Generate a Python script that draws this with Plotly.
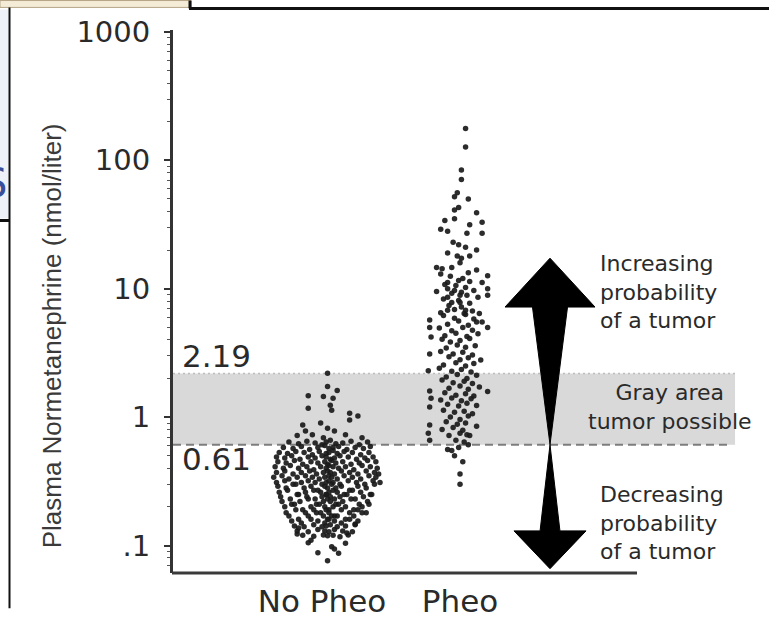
import plotly.graph_objects as go

# ---------------- data ----------------
categories = ["No Pheo", "Pheo"]
y_tick_vals = [0.1, 1, 10, 100, 1000]
y_tick_text = [".1", "1", "10", "100", "1000"]
lower_cutoff = 0.61
upper_cutoff = 2.19

# No Pheo group: plasma normetanephrine (nmol/L) and horizontal jitter (category units)
nopheo_values = [
    2.2, 1.73, 1.61, 1.47, 1.45, 1.40, 1.24, 1.17, 1.13, 1.07, 1.02, 0.95, 0.90, 0.87, 0.82, 0.78, 0.78, 0.73, 0.72, 0.73, 0.69, 0.69,
    0.64, 0.62, 0.65, 0.63, 0.61, 0.64, 0.66, 0.62, 0.63, 0.65, 0.61, 0.64,
    0.58, 0.57, 0.59, 0.56, 0.58, 0.60, 0.57, 0.58, 0.59, 0.56, 0.58, 0.57, 0.59,
    0.53, 0.52, 0.54, 0.53, 0.51, 0.54, 0.52, 0.53, 0.55, 0.52, 0.54, 0.53, 0.51, 0.53,
    0.49, 0.48, 0.50, 0.47, 0.49, 0.48, 0.50, 0.49, 0.47, 0.48, 0.50, 0.49, 0.47, 0.48, 0.49,
    0.45, 0.44, 0.46, 0.43, 0.45, 0.44, 0.45, 0.43, 0.46, 0.44, 0.45, 0.43, 0.44, 0.46, 0.45,
    0.41, 0.40, 0.42, 0.40, 0.41, 0.39, 0.41, 0.40, 0.42, 0.41, 0.40, 0.41, 0.39, 0.42, 0.41, 0.40,
    0.37, 0.38, 0.36, 0.37, 0.38, 0.36, 0.37, 0.38, 0.37, 0.36, 0.38, 0.37, 0.36, 0.38, 0.37, 0.36,
    0.34, 0.35, 0.33, 0.34, 0.35, 0.34, 0.33, 0.34, 0.35, 0.34, 0.33, 0.35, 0.34, 0.33, 0.35, 0.34,
    0.31, 0.32, 0.30, 0.31, 0.32, 0.31, 0.30, 0.31, 0.32, 0.31, 0.30, 0.32, 0.31, 0.30, 0.32, 0.31,
    0.29, 0.28, 0.30, 0.28, 0.29, 0.27, 0.29, 0.28, 0.30, 0.28, 0.29, 0.27, 0.29, 0.28, 0.30,
    0.26, 0.27, 0.25, 0.26, 0.27, 0.26, 0.25, 0.26, 0.27, 0.26, 0.25, 0.27, 0.26, 0.25,
    0.24, 0.23, 0.25, 0.24, 0.23, 0.24, 0.25, 0.24, 0.23, 0.24, 0.25, 0.23, 0.24, 0.25,
    0.22, 0.21, 0.22, 0.23, 0.21, 0.22, 0.23, 0.22, 0.21, 0.22, 0.23, 0.21, 0.22,
    0.20, 0.21, 0.19, 0.20, 0.21, 0.20, 0.19, 0.20, 0.21, 0.20, 0.19, 0.20, 0.21,
    0.18, 0.19, 0.18, 0.19, 0.18, 0.19, 0.18, 0.17, 0.19, 0.18, 0.19, 0.18,
    0.17, 0.16, 0.17, 0.18, 0.17, 0.16, 0.17, 0.17, 0.16, 0.17, 0.18,
    0.155, 0.15, 0.16, 0.155, 0.15, 0.16, 0.155, 0.15, 0.16, 0.155,
    0.142, 0.14, 0.145, 0.14, 0.142, 0.145, 0.14, 0.142, 0.145,
    0.13, 0.128, 0.133, 0.13, 0.128, 0.133, 0.13, 0.128,
    0.12, 0.118, 0.121, 0.119, 0.12, 0.117, 0.121,
    0.105, 0.088, 0.094, 0.104, 0.087, 0.076, 0.123, 0.137, 0.125, 0.147, 0.11, 0.098,
]
nopheo_jitter = [
    0.04, 0.04, 0.11, -0.10, 0.01, 0.08, 0.06, -0.10, 0.07, 0.20, 0.26, 0.20, -0.01, -0.14, 0.04, -0.12, 0.09, -0.07, -0.18, 0.17, 0.29, 0.01,
    -0.24, -0.17, -0.11, -0.05, 0.0, 0.03, 0.06, 0.10, 0.15, 0.21, 0.27, 0.33,
    -0.28, -0.21, -0.15, -0.09, -0.03, 0.02, 0.05, 0.08, 0.12, 0.18, 0.24, 0.30, 0.35,
    -0.31, -0.25, -0.19, -0.13, -0.07, -0.02, 0.03, 0.05, 0.08, 0.11, 0.16, 0.22, 0.28, 0.34,
    -0.33, -0.27, -0.22, -0.16, -0.10, -0.05, 0.0, 0.03, 0.06, 0.09, 0.13, 0.19, 0.25, 0.31, 0.37,
    -0.32, -0.26, -0.20, -0.14, -0.08, -0.03, 0.02, 0.04, 0.07, 0.10, 0.15, 0.21, 0.27, 0.33, 0.39,
    -0.34, -0.28, -0.23, -0.17, -0.11, -0.06, -0.01, 0.03, 0.05, 0.08, 0.12, 0.17, 0.23, 0.29, 0.35, 0.40,
    -0.33, -0.27, -0.21, -0.15, -0.09, -0.04, 0.01, 0.04, 0.06, 0.09, 0.14, 0.20, 0.26, 0.32, 0.38, 0.41,
    -0.35, -0.29, -0.24, -0.18, -0.12, -0.07, -0.02, 0.02, 0.05, 0.07, 0.11, 0.16, 0.22, 0.28, 0.34, 0.39,
    -0.33, -0.27, -0.21, -0.15, -0.10, -0.05, 0.0, 0.03, 0.05, 0.08, 0.13, 0.19, 0.25, 0.31, 0.37, 0.42,
    -0.32, -0.26, -0.19, -0.13, -0.08, -0.03, 0.02, 0.04, 0.07, 0.10, 0.14, 0.20, 0.26, 0.32, 0.38,
    -0.31, -0.25, -0.18, -0.12, -0.06, -0.01, 0.03, 0.05, 0.08, 0.11, 0.16, 0.22, 0.28, 0.35,
    -0.30, -0.23, -0.17, -0.11, -0.05, 0.0, 0.03, 0.06, 0.09, 0.13, 0.18, 0.24, 0.30, 0.36,
    -0.29, -0.22, -0.16, -0.10, -0.04, 0.01, 0.04, 0.06, 0.10, 0.15, 0.21, 0.27, 0.33,
    -0.27, -0.20, -0.14, -0.08, -0.02, 0.02, 0.05, 0.08, 0.12, 0.17, 0.23, 0.29, 0.34,
    -0.26, -0.19, -0.12, -0.06, -0.01, 0.03, 0.05, 0.09, 0.14, 0.20, 0.26, 0.32,
    -0.24, -0.17, -0.10, -0.04, 0.01, 0.04, 0.07, 0.11, 0.17, 0.23, 0.29,
    -0.22, -0.15, -0.08, -0.03, 0.02, 0.05, 0.09, 0.14, 0.20, 0.26,
    -0.20, -0.13, -0.06, 0.0, 0.03, 0.06, 0.11, 0.17, 0.24,
    -0.18, -0.10, -0.03, 0.02, 0.05, 0.09, 0.15, 0.22,
    -0.14, -0.06, 0.01, 0.04, 0.08, 0.13, 0.19,
    -0.10, -0.03, 0.09, 0.17, 0.12, 0.04, -0.18, -0.17, 0.18, 0.24, -0.08, 0.07,
]

# Pheo group
pheo_values = [
    177, 127, 84, 71, 56, 52, 50, 43, 41, 39, 34, 35, 31.5, 33, 29, 28, 27, 27, 23, 22, 21, 20, 19, 18,
    17.3, 18, 14.6, 14.3, 14.6, 15.9, 13.3, 14, 12.6, 13, 11.2, 11.6, 11.2, 10.0, 10.0, 9.7, 9.4, 8.9,
    8.6, 7.8, 7.8, 6.8, 6.8,
    12.5, 12.0, 11.4, 10.8, 10.6, 10.2, 9.7, 9.2, 8.9, 8.6, 8.3, 8.1, 7.7, 7.4, 7.2, 6.9, 6.7, 6.5, 6.3, 6.4, 8.9, 9.5,
    5.7, 5.0, 4.2, 3.1, 2.3, 1.6, 1.4, 1.2, 0.87, 0.75, 0.66,
    5.5, 5.0, 1.58, 1.23, 0.85, 0.72,
    0.36, 0.30, 0.50, 0.55, 0.56,
    6.2, 5.9, 6.4, 5.8,
    5.3, 5.6, 5.2, 5.5,
    4.95, 4.7, 5.0, 4.75,
    4.3, 4.5, 4.25, 4.45,
    4.05, 3.85, 3.95, 4.1,
    3.45, 3.65, 3.5, 3.6,
    3.25, 3.1, 3.2, 3.05,
    2.95, 2.8, 2.9, 2.78,
    2.55, 2.65, 2.5, 2.62,
    2.4, 2.28, 2.35, 2.25,
    2.05, 2.15, 2.0, 2.12,
    1.95, 1.85, 1.9, 1.83,
    1.68, 1.75, 1.65, 1.72,
    1.55, 1.48, 1.52, 1.46,
    1.36, 1.41, 1.34, 1.39,
    1.26, 1.22, 1.28,
    1.13, 1.09, 1.11, 1.06,
    1.0, 0.96, 1.02,
    0.92, 0.88, 0.9,
    0.8, 0.83, 0.79,
    0.72, 0.75, 0.73,
    0.66, 0.64,
    0.58, 0.61,
    0.45,
]
pheo_jitter = [
    0.04, 0.04, 0.01, 0.01, -0.02, -0.04, 0.06, -0.01, -0.04, 0.12, -0.11, -0.04, 0.07, 0.16, -0.14, -0.09,
    0.05, 0.16, -0.05, -0.01, 0.04, 0.12, -0.09, -0.02, 0.01, 0.07, -0.17, -0.13, -0.06, 0.0, 0.06, 0.12,
    0.20, -0.14, -0.09, -0.01, 0.16, 0.20, -0.09, -0.04, 0.01, 0.05, -0.09, -0.06, 0.0, -0.09, 0.04,
    -0.07, 0.02, 0.07, -0.11, -0.03, 0.04, 0.10, -0.06, 0.0, 0.13, -0.12, -0.01, 0.07, -0.08, 0.01, -0.04, 0.09, -0.14, 0.04, 0.14, 0.20, -0.17,
    -0.22, -0.22, -0.21, -0.22, -0.23, -0.22, -0.21, -0.22, -0.22, -0.23, -0.22,
    0.16, 0.20, 0.20, 0.12, 0.12, 0.07,
    0.0, 0.0, -0.04, -0.06, -0.09,
    -0.12, -0.04, 0.03, 0.10,
    -0.09, -0.01, 0.06, 0.12,
    -0.15, -0.06, 0.02, 0.09,
    -0.11, -0.03, 0.05, 0.13,
    -0.13, -0.07, 0.0, 0.07,
    -0.10, -0.02, 0.04, 0.11,
    -0.14, -0.05, 0.02, 0.09,
    -0.08, 0.0, 0.06, 0.15,
    -0.12, -0.03, 0.04, 0.10,
    -0.15, -0.06, 0.01, 0.08,
    -0.10, -0.02, 0.05, 0.12,
    -0.13, -0.05, 0.03, 0.09,
    -0.08, 0.0, 0.06, 0.14,
    -0.11, -0.03, 0.04, 0.10,
    -0.14, -0.06, 0.01, 0.08,
    -0.09, -0.01, 0.05,
    -0.12, -0.04, 0.03, 0.09,
    -0.07, 0.0, 0.06,
    -0.10, -0.02, 0.04,
    -0.13, -0.05, 0.02,
    -0.08, 0.0, 0.05,
    -0.03, 0.03,
    -0.01, 0.06,
    0.02,
]

# ---------------- layout geometry ----------------
W, H = 769, 619
ML, MR, MT, MB = 173, 0, 30, 36
PW, PH = W - ML - MR, H - MT - MB
X_RANGE = [-1.08, 3.239]
Y_RANGE = [-1.214, 3.015]


def pxx(p):
    return (p - ML) / PW


def pxy(p):
    return (H - MB - p) / PH


TXT = "#2a2a2a"
FONT = "DejaVu Sans"

n1 = min(len(nopheo_values), len(nopheo_jitter))
n2 = min(len(pheo_values), len(pheo_jitter))

fig = go.Figure()
fig.add_trace(go.Scatter(
    x=[0 + j for j in nopheo_jitter[:n1]], y=nopheo_values[:n1], mode="markers",
    marker=dict(size=5.5, color="#1a1a1a", opacity=0.92, line=dict(width=0)),
    hoverinfo="skip", showlegend=False))
fig.add_trace(go.Scatter(
    x=[1 + j for j in pheo_jitter[:n2]], y=pheo_values[:n2], mode="markers",
    marker=dict(size=5.5, color="#1a1a1a", opacity=0.92, line=dict(width=0)),
    hoverinfo="skip", showlegend=False))

# arrow geometry (x in category units, y in data values)
acx = 1.652
arrow_top, arrow_head_top = 17.3, 7.2
arrow_head_bot, arrow_bot = 0.13, 0.066
pts = [
    (acx, arrow_top), (acx + 0.326, arrow_head_top), (acx + 0.127, arrow_head_top),
    (acx, lower_cutoff), (acx + 0.072, arrow_head_bot), (acx + 0.261, arrow_head_bot),
    (acx, arrow_bot), (acx - 0.261, arrow_head_bot), (acx - 0.072, arrow_head_bot),
    (acx, lower_cutoff), (acx - 0.127, arrow_head_top), (acx - 0.326, arrow_head_top),
]
arrow_path = "M " + " L ".join(f"{x:.4f},{y:.4f}" for x, y in pts) + " Z"

shapes = [
    dict(type="rect", xref="x", yref="y", x0=X_RANGE[0] - 0.1, x1=2.993,
         y0=lower_cutoff, y1=upper_cutoff, fillcolor="#d9d9d9", line=dict(width=0), layer="below"),
    dict(type="line", xref="x", yref="y", x0=X_RANGE[0], x1=2.993, y0=upper_cutoff, y1=upper_cutoff,
         line=dict(color="#bdbdbd", width=1.5, dash="2px,3px"), layer="below"),
    dict(type="line", xref="x", yref="y", x0=X_RANGE[0], x1=2.971, y0=lower_cutoff, y1=lower_cutoff,
         line=dict(color="#7d7d7d", width=2, dash="8px,5px"), layer="below"),
    dict(type="path", xref="x", yref="y", path=arrow_path, fillcolor="#000000",
         line=dict(color="#000000", width=1)),
    # x axis baseline
    dict(type="line", xref="paper", yref="paper", x0=pxx(172), x1=pxx(637), y0=0, y1=0,
         line=dict(color="#3a3a3a", width=3)),
    # page frame decorations
    dict(type="rect", xref="paper", yref="paper", x0=pxx(0), x1=pxx(191), y0=pxy(0), y1=pxy(7),
         fillcolor="#f5ecd8", line=dict(color="#b5a585", width=1)),
    dict(type="line", xref="paper", yref="paper", x0=pxx(190), x1=pxx(190), y0=pxy(0), y1=pxy(8),
         line=dict(color="#111111", width=3)),
    dict(type="line", xref="paper", yref="paper", x0=pxx(189), x1=pxx(769), y0=pxy(8), y1=pxy(8),
         line=dict(color="#111111", width=3)),
    dict(type="rect", xref="paper", yref="paper", x0=pxx(0), x1=pxx(8.5), y0=pxy(9), y1=pxy(222),
         fillcolor="#eef1f8", line=dict(width=0)),
    dict(type="line", xref="paper", yref="paper", x0=pxx(9.5), x1=pxx(9.5), y0=pxy(7), y1=pxy(619),
         line=dict(color="#111111", width=2)),
    dict(type="line", xref="paper", yref="paper", x0=pxx(0), x1=pxx(9.5), y0=pxy(224), y1=pxy(224),
         line=dict(color="#111111", width=3)),
]


def ann(text, x, y, size=22, xanchor="left", family=FONT, color=TXT, angle=0, align="left"):
    return dict(text=text, x=pxx(x), y=pxy(y), xref="paper", yref="paper", showarrow=False,
                xanchor=xanchor, yanchor="middle", textangle=angle, borderpad=0, align=align,
                font=dict(family=family, size=size, color=color))


annotations = [
    ann("2.19", 181, 362, size=31),
    ann("0.61", 181, 467, size=31),
    ann("Increasing<br>probability<br>of a tumor", 599, 297),
    ann("Gray area<br>tumor possible", 670, 414, xanchor="center", align="center"),
    ann("Decreasing<br>probability<br>of a tumor", 599, 532),
    ann("Plasma Normetanephrine (nmol/liter)", 52, 342, size=26, xanchor="center",
        family="Liberation Sans", color="#3a3a3a", angle=-90),
    ann("S", -6, 186, size=40, xanchor="center", color="#3a4f9a"),
]

minor_vals = [0.07, 0.08, 0.09] + [m * 10.0 ** e for e in range(-1, 3) for m in range(2, 10)]

fig.update_layout(
    width=W, height=H, autosize=False,
    margin=dict(l=ML, r=MR, t=MT, b=MB, pad=0),
    paper_bgcolor="white", plot_bgcolor="white",
    showlegend=False,
    shapes=shapes, annotations=annotations,
    xaxis=dict(range=X_RANGE, tickmode="array", tickvals=[0, 1], ticktext=categories,
               showgrid=False, zeroline=False, showline=False, ticks="",
               ticklabelstandoff=7,
               tickfont=dict(family=FONT, size=31, color=TXT)),
    yaxis=dict(type="log", range=Y_RANGE, tickmode="array", tickvals=y_tick_vals, ticktext=y_tick_text,
               showgrid=False, zeroline=False, showline=True, linecolor="#333333", linewidth=3,
               ticks="outside", ticklen=6, tickwidth=2, tickcolor="#333333",
               ticklabelstandoff=8,
               tickfont=dict(family=FONT, size=29, color=TXT),
               minor=dict(tickmode="array", tickvals=minor_vals, ticks="outside", ticklen=3,
                          tickwidth=1, tickcolor="#555555", showgrid=False)),
)

fig.write_html("out.html")
